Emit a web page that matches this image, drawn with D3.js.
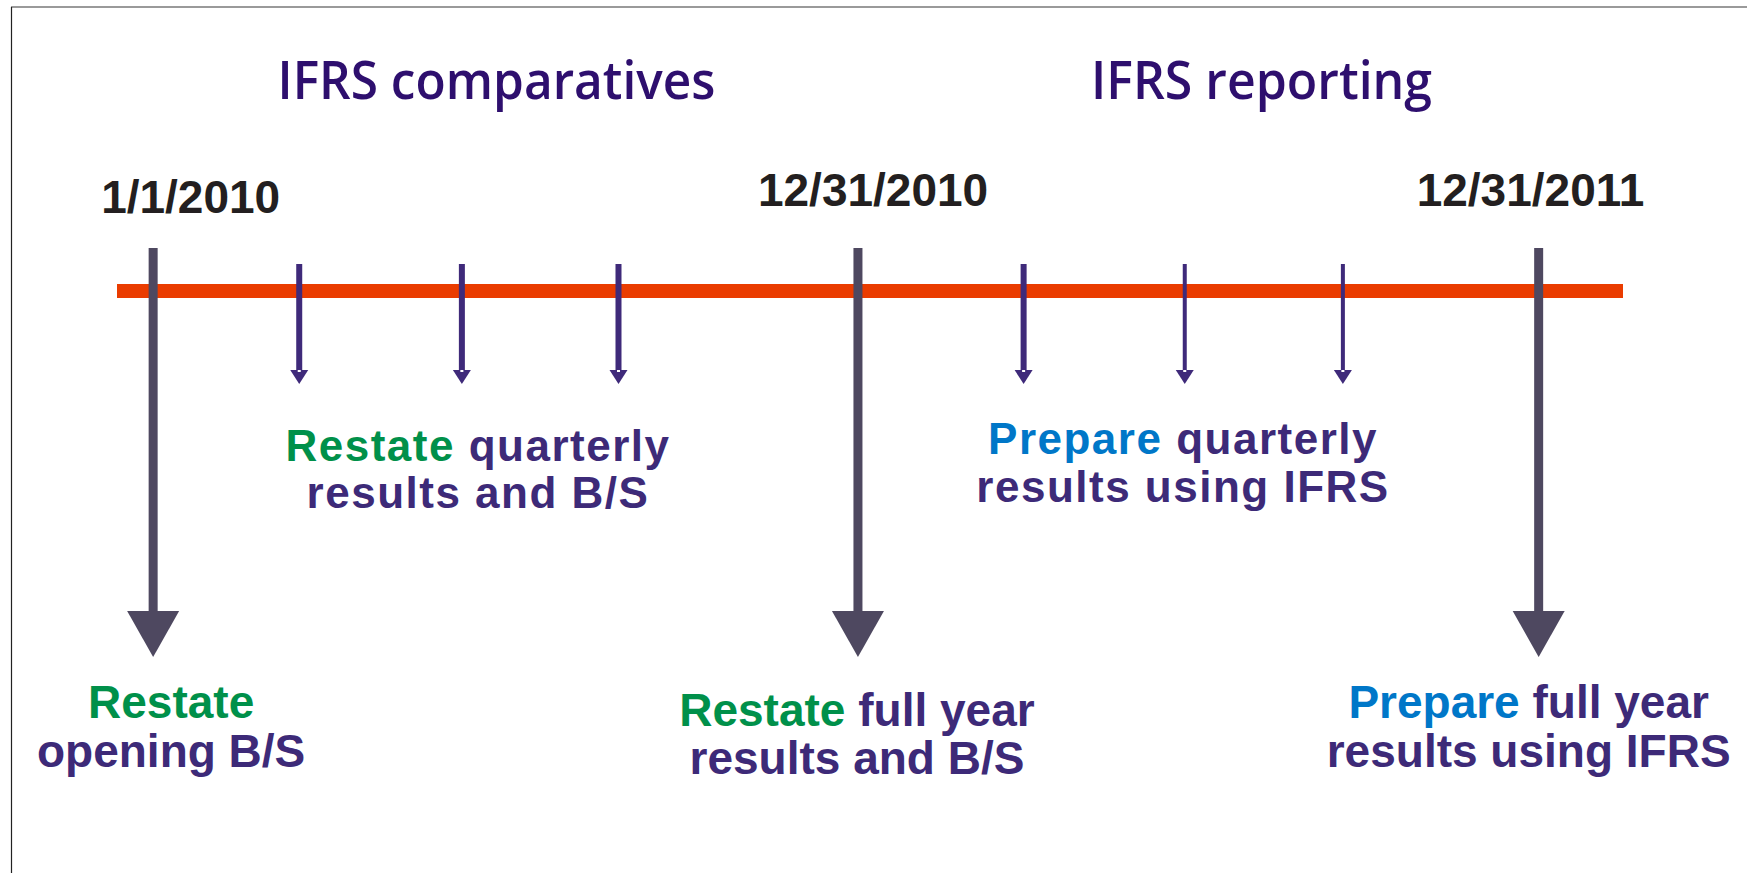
<!DOCTYPE html>
<html>
<head>
<meta charset="utf-8">
<script src="https://cdn.jsdelivr.net/npm/d3@7"></script>
<style>
  html, body { margin: 0; padding: 0; background: #fff; overflow: hidden; }
  svg { display: block; }
</style>
</head>
<body>
<div id="chart"></div>
<script>
// timeline data (position along the bar, 0-100)
var phases = ["IFRS comparatives", "IFRS reporting"];
var phasePos = [25.2, 76.0];
var milestones = ["1/1/2010", "12/31/2010", "12/31/2011"];
var milestonePos = [2.4, 49.2, 94.4];
var quarterPos = [12.1, 22.9, 33.3, 60.2, 70.9, 81.4];
var quarterHeavy = [true, true, true, true, false, false];
var bottomVerb = ["Restate", "Restate", "Prepare"];
var bottomLine1 = ["", "full year", "full year"];
var bottomLine2 = ["opening B/S", "results and B/S", "results using IFRS"];
var quarterVerb = ["Restate", "Prepare"];
var quarterLine1 = ["quarterly", "quarterly"];
var quarterLine2 = ["results and B/S", "results using IFRS"];

var W = 1747, H = 873;
var C = {
  title: "#2e0f6e", date: "#231f20", text: "#3d2a78",
  green: "#00904a", blue: "#0077c8",
  bar: "#ea3c00", big: "#4e4860", small: "#3f2a7a"
};

var svg = d3.select("#chart").append("svg")
  .attr("width", W)
  .attr("height", H);

// frame
svg.append("line").attr("x1", 11).attr("x2", W).attr("y1", 7).attr("y2", 7)
  .attr("stroke", "#9a9a9a").attr("stroke-width", 2);
svg.append("line").attr("x1", 11.5).attr("x2", 11.5).attr("y1", 7).attr("y2", H)
  .attr("stroke", "#222").attr("stroke-width", 1.2);

var x = d3.scaleLinear().domain([0, 100]).range([117, 1623]);
var barY = 291;

// phase titles
svg.selectAll("text.phase").data(phases).enter().append("text")
  .attr("class", "phase")
  .attr("x", function (d, i) { return x(phasePos[i]); })
  .attr("y", 99)
  .attr("text-anchor", "middle")
  .attr("textLength", function (d, i) { return [438, 341][i]; })
  .attr("lengthAdjust", "spacingAndGlyphs")
  .style("font-family", "'Open Sans', sans-serif")
  .style("font-weight", 600)
  .style("font-size", "52px")
  .attr("fill", C.title)
  .text(function (d) { return d; });

// date labels
var dateDx = [-52, -100, -122];
var dateY = [213, 206, 206];
svg.selectAll("text.date").data(milestones).enter().append("text")
  .attr("class", "date")
  .attr("x", function (d, i) { return x(milestonePos[i]) + dateDx[i]; })
  .attr("y", function (d, i) { return dateY[i]; })
  .style("font-family", "'Liberation Sans', Arial, sans-serif")
  .style("font-weight", 700)
  .style("font-size", "46px")
  .attr("fill", C.date)
  .text(function (d) { return d; });

// orange timeline bar
svg.append("rect")
  .attr("x", x(0)).attr("width", x(100) - x(0))
  .attr("y", barY - 7).attr("height", 14)
  .attr("fill", C.bar);

// big milestone arrows
var big = svg.selectAll("g.big").data(milestonePos).enter().append("g")
  .attr("class", "big")
  .attr("transform", function (d) { return "translate(" + x(d) + ",0)"; });
big.append("rect").attr("x", -4.5).attr("width", 9).attr("y", 248).attr("height", 366)
  .attr("fill", C.big);
big.append("path").attr("d", "M-26,611L26,611L0,657Z").attr("fill", C.big);

// small quarter arrows
var small = svg.selectAll("g.small").data(quarterPos).enter().append("g")
  .attr("class", "small")
  .attr("transform", function (d) { return "translate(" + x(d) + ",0)"; });
small.append("rect")
  .attr("x", function (d, i) { return quarterHeavy[i] ? -3 : -2; })
  .attr("width", function (d, i) { return quarterHeavy[i] ? 6 : 4; })
  .attr("y", 264).attr("height", 108)
  .attr("fill", C.small);
small.append("path").attr("d", "M-9,370L9,370L0,384Z").attr("fill", C.small);
small.append("rect").attr("x", -1.5).attr("width", 3).attr("y", 370).attr("height", 2)
  .attr("fill", "#fff");

// two-line labels with a coloured verb
function twoLine(sel, cx, y1, y2, size, spacing, verb, verbColor, l1, l2) {
  var t = sel.append("text")
    .attr("text-anchor", "middle")
    .style("font-family", "'Liberation Sans', Arial, sans-serif")
    .style("font-weight", 700)
    .style("font-size", size + "px")
    .style("letter-spacing", spacing + "px");
  var a = t.append("tspan").attr("x", cx).attr("y", y1);
  a.append("tspan").attr("fill", verbColor).text(verb);
  if (l1) a.append("tspan").attr("fill", C.text).text(" " + l1);
  t.append("tspan").attr("x", cx).attr("y", y2).attr("fill", C.text).text(l2);
}

var bottomDx = [18, -1, -10];
var bottomY = [[718, 767], [726, 774], [718, 767]];
bottomVerb.forEach(function (v, i) {
  twoLine(svg, x(milestonePos[i]) + bottomDx[i], bottomY[i][0], bottomY[i][1], 46, 0,
    v, v === "Restate" ? C.green : C.blue, bottomLine1[i], bottomLine2[i]);
});

var quarterCx = [478, 1183];
var quarterY = [[461, 508], [454, 502]];
quarterVerb.forEach(function (v, i) {
  twoLine(svg, quarterCx[i], quarterY[i][0], quarterY[i][1], 44, 1.5,
    v, v === "Restate" ? C.green : C.blue, quarterLine1[i], quarterLine2[i]);
});
</script>
</body>
</html>
